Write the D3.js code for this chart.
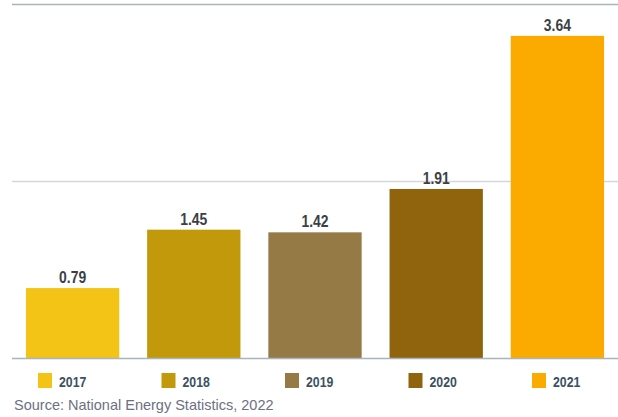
<!DOCTYPE html>
<html>
<head>
<meta charset="utf-8">
<script src="https://cdn.jsdelivr.net/npm/d3@7"></script>
<style>
  body { margin: 0; background: #fff; }
  svg { display: block; }
</style>
</head>
<body>
<div id="chart"></div>
<script>
// chart data
var years = ["2017", "2018", "2019", "2020", "2021"];
var values = [0.79, 1.45, 1.42, 1.91, 3.64];
var barColors = ["#f3c316", "#c2990b", "#967a45", "#8f640c", "#fbab00"];
var gridTicks = [2, 4];
var sourceNote = "Source: National Energy Statistics, 2022";

var width = 618, height = 417;
var narrow = 0.82; // squeeze bold text to look condensed

var svg = d3.select("#chart")
    .append("svg")
    .attr("width", width)
    .attr("height", height);

// scales
var x = d3.scaleBand()
    .domain(years)
    .range([12, 618])
    .paddingInner(0.23)
    .paddingOuter(0.115);

var y = d3.scaleLinear()
    .domain([0, 4])
    .range([358, 4]);

// gridlines
svg.selectAll(".grid")
    .data(gridTicks)
    .enter()
    .append("line")
    .attr("x1", 12)
    .attr("x2", 618)
    .attr("y1", function (d) { return Math.round(y(d)) + 0.5; })
    .attr("y2", function (d) { return Math.round(y(d)) + 0.5; })
    .style("stroke", function (d) { return d == 4 ? "#abb2b9" : "#d3d8dc"; })
    .style("stroke-width", 1.5);

// bars
svg.selectAll(".bar")
    .data(values)
    .enter()
    .append("rect")
    .attr("x", function (d, i) { return x(years[i]); })
    .attr("y", function (d) { return y(d); })
    .attr("width", x.bandwidth())
    .attr("height", function (d) { return y(0) - y(d); })
    .style("fill", function (d, i) { return barColors[i]; });

// baseline
svg.append("line")
    .attr("x1", 12)
    .attr("x2", 618)
    .attr("y1", y(0) + 0.5)
    .attr("y2", y(0) + 0.5)
    .style("stroke", "#a9b4bd")
    .style("stroke-width", 1.5);

// value labels
svg.selectAll(".label")
    .data(values)
    .enter()
    .append("text")
    .attr("transform", function (d, i) {
        return "translate(" + (x(years[i]) + x.bandwidth() / 2) + "," + (y(d) - 5) + ") scale(" + narrow + ",1)";
    })
    .attr("text-anchor", "middle")
    .style("font-family", "'Liberation Sans Narrow', 'Liberation Sans', Arial, sans-serif")
    .style("font-weight", "bold")
    .style("font-size", "17px")
    .style("fill", "#3d3f46")
    .text(function (d) { return d.toFixed(2); });

// legend
var legend = svg.selectAll(".legend")
    .data(years)
    .enter()
    .append("g")
    .attr("transform", function (d, i) { return "translate(" + (38 + i * 123.5) + ",373)"; });

legend.append("rect")
    .attr("width", 14)
    .attr("height", 15)
    .style("fill", function (d, i) { return barColors[i]; });

legend.append("text")
    .attr("transform", "translate(21,13.5) scale(" + narrow + ",1)")
    .style("font-family", "'Liberation Sans Narrow', 'Liberation Sans', Arial, sans-serif")
    .style("font-weight", "bold")
    .style("font-size", "15px")
    .style("fill", "#3b5163")
    .text(function (d) { return d; });

// source note
svg.append("text")
    .attr("x", 14)
    .attr("y", 410)
    .style("font-family", "'Liberation Sans', Arial, sans-serif")
    .style("font-size", "14.5px")
    .style("fill", "#6d7083")
    .text(sourceNote);
</script>
</body>
</html>
